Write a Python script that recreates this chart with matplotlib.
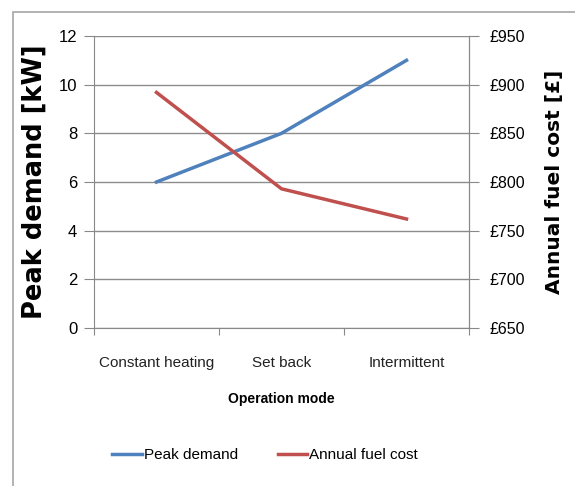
import numpy as np
import matplotlib.pyplot as plt
from matplotlib.patches import Rectangle

# data
modes = ['Constant heating', 'Set back', 'Intermittent']
peak_demand = [6, 8, 11]          # kW
fuel_cost = [892, 793, 762]       # GBP per year

left_ticks = [0, 2, 4, 6, 8, 10, 12]
right_ticks = [650, 700, 750, 800, 850, 900, 950]

tick_font = ['Liberation Sans', 'DejaVu Sans']

fig = plt.figure(figsize=(5.75, 4.86), dpi=100)

# outer chart frame (cropped at right/bottom like the reference)
fig.patches.append(Rectangle((13 / 575, -0.1), 1.2, 1 - 12 / 486 + 0.1,
                             transform=fig.transFigure, fill=False,
                             edgecolor='#a6a6a6', linewidth=1.2))

ax = fig.add_axes([94 / 575, 1 - 328 / 486, 375 / 575, 292 / 486])
x = np.arange(len(modes)) + 0.5

ax.plot(x, peak_demand, color='#4f81bd', linewidth=2.5, label='Peak demand')
ax.set_xlim(0, 3)
ax.set_ylim(0, 12)
ax.set_yticks(left_ticks)
ax.set_xticks([0, 1, 2, 3])
ax.set_xticklabels([])
ax.set_xticks(x, minor=True)
ax.set_xticklabels(modes, minor=True, fontsize=11, family=tick_font, color='#222222')
ax.tick_params(axis='x', which='minor', length=0, pad=20)
ax.tick_params(axis='x', which='major', length=5, color='#888888')
ax.tick_params(axis='y', length=7, color='#888888', labelsize=12, pad=5)
for lab in ax.get_yticklabels():
    lab.set_family(tick_font)
ax.grid(axis='y', color='#8c8c8c', linewidth=1)
ax.set_axisbelow(True)
ax.spines['top'].set_visible(False)
ax.spines['left'].set_color('#888888')
ax.spines['bottom'].set_color('#888888')
ax.spines['right'].set_color('#888888')

ax2 = ax.twinx()
ax2.plot(x, fuel_cost, color='#c0504d', linewidth=2.5, label='Annual fuel cost')
ax2.set_ylim(650, 950)
ax2.set_yticks(right_ticks)
ax2.set_yticklabels(['£%d' % v for v in right_ticks], family=tick_font, fontsize=11.5)
ax2.tick_params(axis='y', length=7, color='#888888', pad=8)
ax2.spines['top'].set_visible(False)
ax2.spines['right'].set_color('#888888')
ax2.spines['left'].set_visible(False)
ax2.spines['bottom'].set_visible(False)

ax.set_ylabel('Peak demand [kW]', fontsize=18.5, fontweight='bold', family='DejaVu Sans', labelpad=8)
ax2.set_ylabel('Annual fuel cost [£]', fontsize=14.5, fontweight='bold', family='DejaVu Sans', labelpad=14)

ax.set_xlabel('Operation mode', fontsize=10, fontweight='bold', family=tick_font, labelpad=16)

h1, l1 = ax.get_legend_handles_labels()
h2, l2 = ax2.get_legend_handles_labels()
fig.legend(h1 + h2, l1 + l2, loc='center', bbox_to_anchor=(265 / 575, 1 - 455 / 486),
           ncol=2, frameon=False, handlelength=1.95, handletextpad=0.1, columnspacing=2.6,
           prop={'family': tick_font, 'size': 11})

fig.savefig('out.png', dpi=100)
